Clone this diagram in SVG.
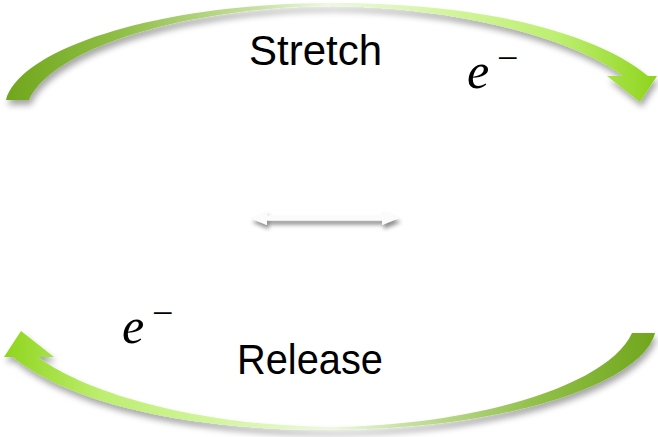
<svg xmlns="http://www.w3.org/2000/svg" width="658" height="437" viewBox="0 0 658 437">
  <defs>
    <linearGradient id="arcGrad" gradientUnits="userSpaceOnUse" x1="0" y1="0" x2="658" y2="0">
      <stop offset="0" stop-color="#6fa51a"/>
      <stop offset="0.18" stop-color="#8fbe46"/>
      <stop offset="0.38" stop-color="#c4df9c"/>
      <stop offset="0.5" stop-color="#eef8e0"/>
      <stop offset="0.68" stop-color="#d2f59c"/>
      <stop offset="0.85" stop-color="#bdee70"/>
      <stop offset="1" stop-color="#8fd41c"/>
    </linearGradient>
    <filter id="shadow" x="-10%" y="-20%" width="120%" height="150%">
      <feDropShadow dx="2" dy="5" stdDeviation="3" flood-color="#000" flood-opacity="0.35"/>
    </filter>
    <filter id="shadowSmall" x="-10%" y="-50%" width="120%" height="250%">
      <feDropShadow dx="2" dy="4" stdDeviation="2.2" flood-color="#000" flood-opacity="0.45"/>
    </filter>
    <path id="arc" d="M6,100 C20,48 160,3 333,3 C480,3 595,32 648,76 L657,76 L640,102 L607,76 L623,76 C578,42 470,8 333,6 C185,7 52,48 29,100 Z"/>
  </defs>
  <style>
    .arc { fill: url(#arcGrad); }
    .label { font-family: "Liberation Sans", Arial, sans-serif; font-size: 42px; fill: #000; }
    .math { font-family: "Liberation Serif", "Times New Roman", serif; font-style: italic; font-size: 50px; fill: #000; }
    .minus { font-family: "Liberation Serif", "Times New Roman", serif; font-size: 38px; fill: #000; }
  </style>
  <rect width="658" height="437" fill="#ffffff"/>
  <g id="connectors">
    <g id="stretch-arrow" filter="url(#shadow)">
      <use href="#arc" class="arc"/>
    </g>
    <g id="release-arrow" filter="url(#shadow)">
      <use href="#arc" class="arc" transform="rotate(180 330.5 216.5)"/>
    </g>
    <g id="double-arrow" filter="url(#shadowSmall)">
      <path d="M250,218 L267,211 L267,215.5 L382,215.5 L382,211 L399,218 L382,225 L382,220.5 L267,220.5 L267,225 Z" fill="#fbfbfb"/>
    </g>
  </g>
  <g id="stretch">
    <text class="label" x="249" y="65" textLength="133" lengthAdjust="spacingAndGlyphs">Stretch</text>
  </g>
  <g id="electron-top">
    <text class="math" x="467" y="88">e</text>
    <text class="minus" x="497" y="71">−</text>
  </g>
  <g id="release">
    <text class="label" x="237" y="374" textLength="146" lengthAdjust="spacingAndGlyphs">Release</text>
  </g>
  <g id="electron-bottom">
    <text class="math" x="122" y="343">e</text>
    <text class="minus" x="152" y="326">−</text>
  </g>
</svg>
